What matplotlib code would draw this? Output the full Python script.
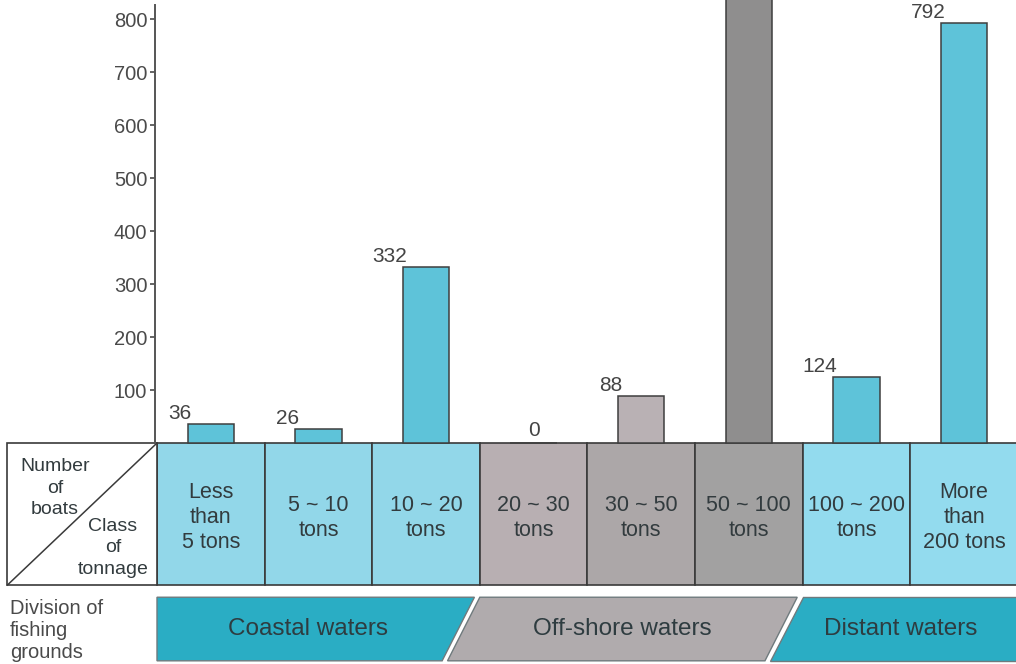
import matplotlib

matplotlib.use("Agg")
import matplotlib.pyplot as plt
from matplotlib.patches import Polygon, Rectangle

plt.rcParams["font.family"] = ["Liberation Sans", "DejaVu Sans"]

# number of boats per tonnage class (50~100 runs off the top, no label)
CLASSES = ["Less\nthan\n5 tons", "5 ~ 10\ntons", "10 ~ 20\ntons",
           "20 ~ 30\ntons", "30 ~ 50\ntons", "50 ~ 100\ntons",
           "100 ~ 200\ntons", "More\nthan\n200 tons"]
BOATS = [36, 26, 332, 0, 88, 900, 124, 792]
LABELS = ["36", "26", "332", "0", "88", "", "124", "792"]
BAR_COLORS = ["#5ec3d9", "#5ec3d9", "#5ec3d9", "#b9b1b4", "#b9b1b4",
              "#8f8e8e", "#5ec3d9", "#5ec3d9"]
CELL_COLORS = ["#92d7e9", "#92d7e9", "#92d7e9", "#b8afb2", "#aca7a8",
               "#a2a1a1", "#93dbee", "#93dbee"]
REGIONS = ["Coastal waters", "Off-shore waters", "Distant waters"]
REGION_SPAN = [(0, 3), (3, 6), (6, 8)]
REGION_COLORS = ["#2aadc4", "#b0abad", "#2aadc4"]
YTICKS = [100, 200, 300, 400, 500, 600, 700, 800]

INK = "#323b3e"
TABLE_BOTTOM = -268
BAND_TOP, BAND_BOT = -291, -411
BAR_W = 0.43
SLANT, GAP = 0.3, 0.05

fig = plt.figure(figsize=(10.16, 6.64), dpi=100)
ax = fig.add_axes([0, 0, 1, 1])
ax.set_xlim(-1.459, 7.983)
ax.set_ylim(-417, 836)

# bars
centers = [k + 0.5 for k in range(len(BOATS))]
ax.bar(centers, BOATS, width=BAR_W, color=BAR_COLORS, edgecolor="#3e3e3e",
       linewidth=1.1, zorder=2)
for c, v, lab in zip(centers, BOATS, LABELS):
    if not lab:
        continue
    if v == 0:
        ax.text(c, v + 14, lab, ha="center", va="baseline", fontsize=15,
                color="#444444")
    else:
        ax.text(c - BAR_W / 2 + 0.04, v + 10, lab, ha="right",
                va="baseline", fontsize=15, color="#444444")

# y axis
for s in ("top", "right", "bottom"):
    ax.spines[s].set_visible(False)
ax.spines["left"].set_position(("data", -0.02))
ax.spines["left"].set_bounds(0, 826)
ax.spines["left"].set_color("#555555")
ax.spines["left"].set_linewidth(1.4)
ax.set_yticks(YTICKS)
ax.set_xticks([])
ax.tick_params(axis="y", direction="out", length=3.5, width=1.2, pad=2,
               labelsize=14.5, colors="#4a4a4a")

# tonnage table
for k, (name, col) in enumerate(zip(CLASSES, CELL_COLORS)):
    ax.add_patch(Rectangle((k, TABLE_BOTTOM), 1, -TABLE_BOTTOM,
                           facecolor=col, edgecolor="#3a3a3a", lw=1.2,
                           clip_on=False, zorder=1))
    ax.text(k + 0.5, -141, name, ha="center", va="center", fontsize=15.5,
            color=INK, linespacing=1.25)

# header cell with diagonal
hx = -1.39
ax.add_patch(Rectangle((hx, TABLE_BOTTOM), -hx, -TABLE_BOTTOM,
                       facecolor="white", edgecolor="#3a3a3a", lw=1.2,
                       zorder=1))
ax.plot([hx, 0], [TABLE_BOTTOM, 0], color="#3a3a3a", lw=1.1)
ax.text(-0.948, -85, "Number\nof\nboats", ha="center", va="center",
        fontsize=14, color=INK, linespacing=1.35)
ax.text(-0.409, -198, "Class\nof\ntonnage", ha="center", va="center",
        fontsize=14, color=INK, linespacing=1.35)

# fishing ground bands
ax.text(-1.366, -353, "Division of\nfishing\ngrounds", ha="left",
        va="center", fontsize=14.5, color="#4a4a4a", linespacing=1.2)
for i, ((a, b), name, col) in enumerate(zip(REGION_SPAN, REGIONS,
                                              REGION_COLORS)):
    top_l = a
    top_r = b - GAP if b < 8 else b + 0.2
    bot_l = a if i == 0 else a - SLANT
    bot_r = top_r - SLANT if b < 8 else top_r
    ax.add_patch(Polygon([(top_l, BAND_TOP), (top_r, BAND_TOP),
                          (bot_r, BAND_BOT), (bot_l, BAND_BOT)],
                         closed=True, facecolor=col, edgecolor="#6f7a7d",
                         lw=1.0, clip_on=False))
    mid = (top_l + top_r + bot_l + bot_r) / 4
    if b >= 8:
        mid = (top_l + bot_l) / 2 + (7.98 - (top_l + bot_l) / 2) / 2
    ax.text(mid, (BAND_TOP + BAND_BOT) / 2, name, ha="center",
            va="center", fontsize=17.5, color="#2e3c40")

fig.savefig("out.png", dpi=100)
